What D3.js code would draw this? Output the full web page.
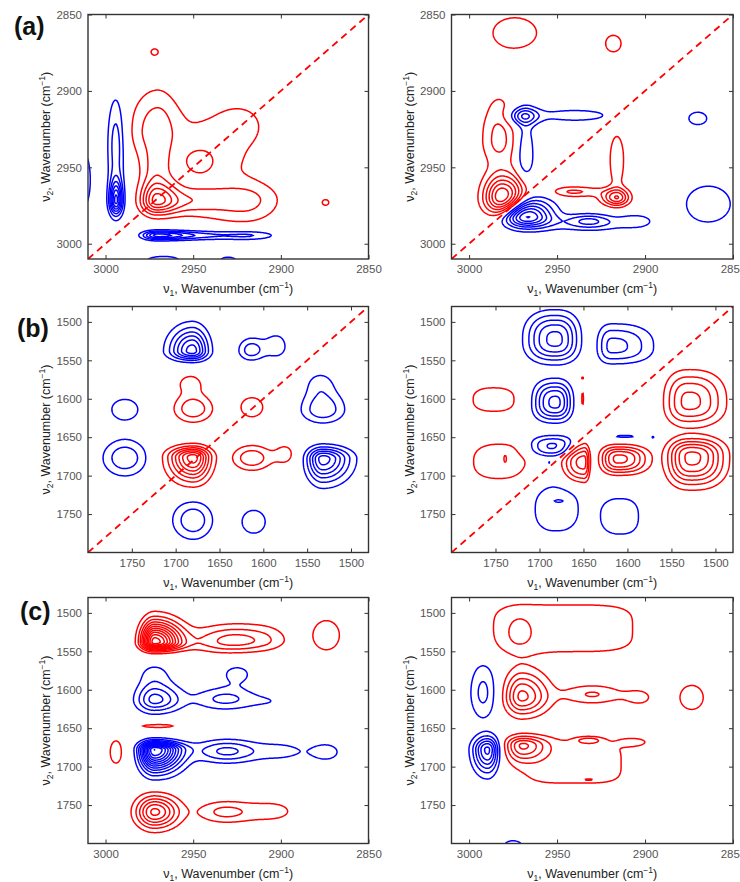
<!DOCTYPE html>
<html>
<head>
<meta charset="utf-8">
<script src="https://cdn.jsdelivr.net/npm/d3@7"></script>
<style>
  body { margin: 0; background: #fff; }
  text { font-family: "Liberation Sans", Arial, sans-serif; }
</style>
</head>
<body>
<svg id="fig" width="740" height="882"></svg>
<script>
// wavenumber ranges (cm-1) and tick labels
const chRange = [2850, 3010];
const amideRange = [1480, 1800];
const chTicks = [3000, 2950, 2900, 2850];
const amideTicks = [1750, 1700, 1650, 1600, 1550, 1500];
const levels = d3.range(1, 16);

// cross peaks: [v1, v2, intensity, width left, width top, width right, width bottom, shape]
const peaksA1 = [
  [2971, 2972, 6.0, 6, 9, 9, 6],
  [2971, 2925, 2.3, 10, 18, 8, 12],
  [2971, 2950, 1.6, 6, 10],
  [2921, 2972, 2.3, 18, 8.5, 14, 10],
  [2950, 2972, 1.6, 10, 6],
  [2938, 2940, 1.4, 25, 25, 20, 20],
  [2922, 2922, 1.0, 8, 8],
  [2947, 2947, 1.3, 7, 7],
  [2972, 2874.5, 1.3, 2.5, 2.5],
  [2874.5, 2973, 1.3, 2.5, 2.5],
  [2994, 2972, -6.5, 2.5, 9, 2.5, 6],
  [2994, 2935, -2.7, 3.5, 22, 3.5, 25],
  [3012.5, 2958, -1.6, 4, 18],
  [2970, 2994.5, -5.5, 6, 2, 14, 2],
  [2945, 2994.5, -1.0, 10, 2.2],
  [2920, 2994.5, -2.3, 15, 2.2, 12, 2.2],
  [2967, 3011, -1.5, 10, 3],
  [2930, 3011, -1.3, 6, 3]
];
const peaksA2 = [
  [2981, 2970, 7.5, 7, 10, 9, 8],
  [2983, 2932, 2.4, 7, 20, 7, 12],
  [2916, 2970, 4.5, 6, 4, 5, 3.5],
  [2941, 2966, 2.2, 9, 2.5, 12, 2.5],
  [2916, 2945, 1.8, 3.5, 14, 3.5, 16],
  [2974, 2862, 1.4, 15, 12],
  [2918, 2869, 1.25, 6.5, 8],
  [2969, 2916.5, -3.4, 6, 4],
  [2940, 2916, -1.5, 18, 3.5, 18, 3.5],
  [2968, 2943, -2.2, 3.5, 18, 3.5, 12],
  [2968, 2982, -7.5, 9, 8, 10, 5],
  [2932, 2985, -2.3, 8, 3],
  [2930, 2987, -1.3, 25, 4, 20, 4],
  [2905, 2985, -1.3, 8, 3, 6, 3],
  [2870, 2918, -1.25, 7.5, 6],
  [2864, 2974, -1.35, 16, 15]
];
const peaksB1 = [
  [1681, 1538, -6.5, 17, 20, 12, 8],
  [1614, 1537, -2.6, 10, 11, 10, 9],
  [1585, 1532, -1.6, 12, 14, 10, 12],
  [1758, 1614, -1.4, 18, 16],
  [1532, 1614, -2.9, 17, 17, 17, 12],
  [1535, 1580, -1.3, 12, 12],
  [1758, 1677, -2.9, 17, 16],
  [1680, 1758, -2.9, 16, 17, 15, 17],
  [1611, 1760, -1.4, 16, 18],
  [1532, 1678, -6.5, 12, 10, 20, 20],
  [1680, 1676, 7.5, 18, 9, 13, 20],
  [1680, 1613, 2.9, 15, 13, 15, 12],
  [1683, 1580, 1.3, 14, 12, 13, 10],
  [1613, 1611, 1.4, 15, 15],
  [1613, 1677, 2.9, 15, 11, 15, 11],
  [1575, 1672, 1.3, 10, 12]
];
const peaksB2 = [
  [1682, 1523, -5.3, 23, 24, 18.5, 20.3, 1.25],
  [1617, 1532, -3.3, 12.3, 20.8, 33, 16, 1.25],
  [1682, 1605, -5.3, 17.5, 19.4, 13, 16.6, 1.25],
  [1685, 1662, -3.3, 20.5, 10.2, 19.8, 9.6, 1.25],
  [1603, 1649, -1.3, 14, 2],
  [1571, 1650, -1.2, 1.5, 1.5],
  [1681, 1742, -1.5, 26, 32.4, 26, 32.4, 1.25],
  [1678, 1733, -0.9, 5, 1.5],
  [1608, 1753, -1.5, 22.3, 25, 22.3, 25, 1.25],
  [1689, 1683, -1.2, 1.5, 1.5],
  [1752, 1601, 1.5, 25.4, 16.5, 25.4, 16.5, 1.25],
  [1530, 1604, 4.3, 18.9, 27.3, 27.9, 21.4, 1.25],
  [1651, 1600, 1.25, 1.8, 14],
  [1651, 1573, 1.2, 1.2, 1.5],
  [1650, 1682, 4.5, 16.7, 16.7, 5.1, 19.3, 1.25],
  [1610, 1678, 5.3, 14.2, 11.7, 23, 13.6, 1.25],
  [1527, 1676, 6.3, 19.3, 17, 25.7, 25.5, 1.25],
  [1744.5, 1681.5, 1.5, 33, 24.3, 33, 24.3, 1.25],
  [1739, 1678, 0.8, 1.5, 5]
];
const peaksC1 = [
  [2972, 1538, 11.5, 5, 18, 10, 7],
  [2931, 1537, 2.9, 14, 14, 14, 10],
  [2910, 1535, 1.6, 14, 14, 10, 10],
  [2874, 1529, 1.4, 9, 23],
  [2970, 1470, 1.3, 6, 10],
  [2970, 1647, 1.15, 17, 4.3],
  [2994, 1681, 1.2, 5.5, 24],
  [2972, 1759, 6.3, 7, 14, 9, 14],
  [2932, 1759, 2.3, 11, 10],
  [2905, 1758, 1.3, 12, 12],
  [2972, 1613, -4.4, 7, 14, 10, 11],
  [2972, 1580, -1.3, 7, 12],
  [2925, 1580, -1.3, 8, 12],
  [2932, 1612, -2.3, 12, 10],
  [2905, 1615, -0.8, 10, 8],
  [2972, 1678, -12, 5.5, 7, 10, 18],
  [2931, 1680, -3.3, 12, 10],
  [2900, 1680, -1.3, 12, 10],
  [2874, 1681, -1.4, 7, 10]
];
const peaksC2 = [
  [2946, 1520, 1.5, 41, 32, 41, 32, 2],
  [2972, 1525, 1.1, 6, 16],
  [2970, 1609, 5.3, 6.5, 22, 10, 16],
  [2930, 1606, 2.1, 12, 9],
  [2903, 1610, 1.2, 7, 10],
  [2873.5, 1610, 1.4, 8, 19],
  [2970, 1672, 4.5, 6, 8, 9, 14],
  [2940, 1695, 1.35, 30, 30, 30, 30, 2],
  [2932, 1666, 2.1, 5, 3],
  [2906, 1668, 1.3, 6, 4],
  [2932, 1717, 1.1, 3, 1.2],
  [2992, 1604, -2.3, 5.4, 28, 5.4, 25],
  [2989.5, 1678, -6.3, 5.5, 11.5, 4.2, 20],
  [2975, 1803, -1.4, 6, 8]
];

const svg = d3.select("#fig");
const cols = [{ x: 88, w: 280.5 }, { x: 451.5, w: 281.5 }];
const rows = [{ y: 14.5, h: 244.5 }, { y: 306.5, h: 246 }, { y: 597.5, h: 246 }];

const panels = [
  { row: 0, col: 0, peaks: peaksA1, xd: [3010, 2850], yd: [2850, 3010], xt: chTicks, yt: chTicks, diag: true, label: "(a)" },
  { row: 0, col: 1, peaks: peaksA2, xd: [3010, 2850], yd: [2850, 3010], xt: chTicks, yt: chTicks, diag: true },
  { row: 1, col: 0, peaks: peaksB1, xd: [1800, 1480], yd: [1480, 1800], xt: amideTicks, yt: amideTicks, diag: true, label: "(b)" },
  { row: 1, col: 1, peaks: peaksB2, xd: [1800, 1480], yd: [1480, 1800], xt: amideTicks, yt: amideTicks, diag: true },
  { row: 2, col: 0, peaks: peaksC1, xd: [3010, 2850], yd: [1480, 1800], xt: chTicks, yt: amideTicks, diag: false, label: "(c)" },
  { row: 2, col: 1, peaks: peaksC2, xd: [3010, 2850], yd: [1480, 1800], xt: chTicks, yt: amideTicks, diag: false }
];

function field(peaks, xv, yv, xs, ys) {
  let s = 0;
  for (const [cx, cy, a, sl, st, sr = sl, sb = st, pw = 1] of peaks) {
    const dx = xv - cx, dy = yv - cy;
    const u = Math.abs(dx / (dx * xs < 0 ? sl : sr));
    const v = Math.abs(dy / (dy * ys < 0 ? st : sb));
    const e = pw === 1 ? u * u + v * v : Math.pow(u, 2 * pw) + Math.pow(v, 2 * pw);
    if (e < 40) s += a * Math.exp(-0.5 * e);
  }
  return s;
}

function titleText(sel, sub) {
  sel.append("tspan").text("\u03bd");
  sel.append("tspan").attr("dy", 3).attr("font-size", 8.5).text(sub);
  sel.append("tspan").attr("dy", -3).text(", Wavenumber (cm");
  sel.append("tspan").attr("dy", -5).attr("font-size", 8.5).text("\u22121");
  sel.append("tspan").attr("dy", 5).text(")");
}

panels.forEach((p, k) => {
  const { x: left, w } = cols[p.col];
  const { y: top, h } = rows[p.row];
  const g = svg.append("g").attr("transform", `translate(${left},${top})`);
  const x = d3.scaleLinear().domain(p.xd).range([0, w]);
  const y = d3.scaleLinear().domain(p.yd).range([0, h]);
  const xs = Math.sign(p.xd[1] - p.xd[0]);
  const ys = Math.sign(p.yd[1] - p.yd[0]);

  // sampling grid, a little wider than the plot so no contour closes on the frame
  const n = 320, m = 320, pad = 0.05;
  const gx = d3.scaleLinear().domain([0, n]).range([-pad * w, (1 + pad) * w]);
  const gy = d3.scaleLinear().domain([0, m]).range([-pad * h, (1 + pad) * h]);
  const pos = new Float64Array(n * m), neg = new Float64Array(n * m);
  for (let j = 0; j < m; j++) {
    const yv = y.invert(gy(j + 0.5));
    for (let i = 0; i < n; i++) {
      const f = field(p.peaks, x.invert(gx(i + 0.5)), yv, xs, ys);
      pos[j * n + i] = f;
      neg[j * n + i] = -f;
    }
  }
  const path = d3.geoPath(d3.geoTransform({
    point(px, py) { this.stream.point(gx(px), gy(py)); }
  }));
  const contours = d3.contours().size([n, m]).thresholds(levels);

  g.append("clipPath").attr("id", "clip" + k)
    .append("rect").attr("width", w).attr("height", h);
  const plot = g.append("g").attr("clip-path", `url(#clip${k})`);

  plot.selectAll("path.neg")
    .data(contours(neg).filter(c => c.coordinates.length))
    .enter().append("path")
    .attr("class", "neg")
    .attr("d", path)
    .attr("fill", "none")
    .attr("stroke", "#0000ff")
    .attr("stroke-width", 1.5);

  plot.selectAll("path.pos")
    .data(contours(pos).filter(c => c.coordinates.length))
    .enter().append("path")
    .attr("class", "pos")
    .attr("d", path)
    .attr("fill", "none")
    .attr("stroke", "#ff0000")
    .attr("stroke-width", 1.5);

  if (p.diag) {
    const lo = p.xd[0], hi = p.xd[1];
    plot.append("line")
      .attr("x1", x(lo)).attr("y1", y(lo))
      .attr("x2", x(hi)).attr("y2", y(hi))
      .attr("stroke", "#ff0000")
      .attr("stroke-width", 1.8)
      .attr("stroke-dasharray", "7,5");
  }

  // axes: ticks point inward on all four sides
  const styleAxis = a => {
    a.select(".domain").remove();
    a.selectAll("line").attr("stroke", "#333");
    a.selectAll("text").attr("fill", "#555").attr("font-size", 11.5)
      .attr("font-family", "Liberation Sans, Arial, sans-serif");
  };
  g.append("g").attr("transform", `translate(0,${h})`)
    .call(d3.axisBottom(x).tickValues(p.xt).tickSize(-4).tickPadding(6).tickFormat(d3.format("d")))
    .call(styleAxis);
  g.append("g")
    .call(d3.axisTop(x).tickValues(p.xt).tickSize(-4).tickFormat(""))
    .call(styleAxis);
  g.append("g")
    .call(d3.axisLeft(y).tickValues(p.yt).tickSize(-4).tickPadding(6).tickFormat(d3.format("d")))
    .call(styleAxis);
  g.append("g").attr("transform", `translate(${w},0)`)
    .call(d3.axisRight(y).tickValues(p.yt).tickSize(-4).tickFormat(""))
    .call(styleAxis);

  g.append("rect")
    .attr("width", w).attr("height", h)
    .attr("fill", "none")
    .attr("stroke", "#333")
    .attr("stroke-width", 1.4);

  g.append("text")
    .attr("x", w / 2).attr("y", h + 34)
    .attr("text-anchor", "middle")
    .attr("font-size", 12.5)
    .attr("fill", "#222")
    .call(titleText, "1");

  g.append("text")
    .attr("transform", `translate(-38,${h / 2}) rotate(-90)`)
    .attr("text-anchor", "middle")
    .attr("font-size", 12.5)
    .attr("fill", "#222")
    .call(titleText, "2");

  if (p.label) {
    g.append("text")
      .attr("x", 14 - left + (p.row * 3))
      .attr("y", [20, 30, 22][p.row])
      .attr("font-family", "Liberation Serif, serif")
      .attr("font-weight", "bold")
      .attr("font-size", 25)
      .attr("fill", "#111")
      .text(p.label);
  }
});
</script>
</body>
</html>
